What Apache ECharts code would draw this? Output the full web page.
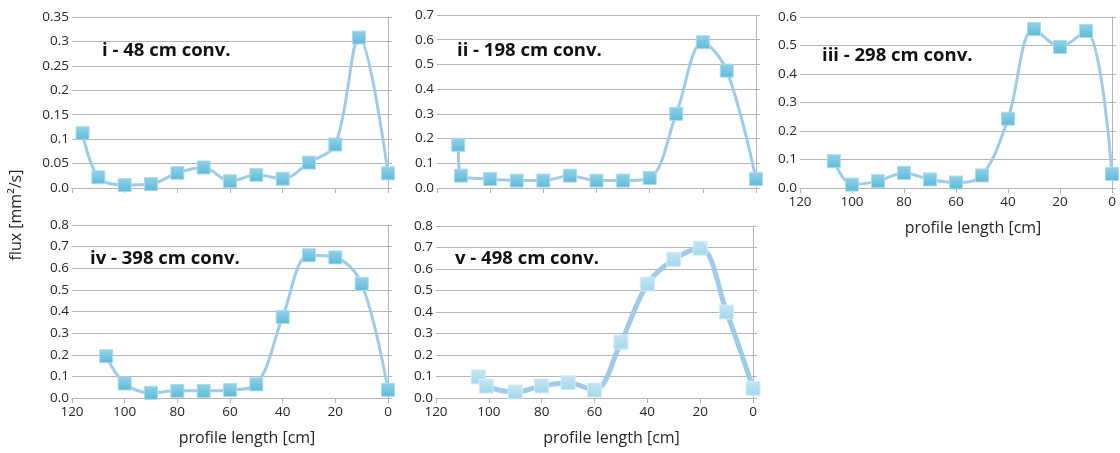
<!DOCTYPE html>
<html>
<head>
<meta charset="utf-8">
<script src="https://cdn.jsdelivr.net/npm/echarts@6/dist/echarts.min.js"></script>
<style>html,body{margin:0;padding:0;background:#fff;}#c{width:1120px;height:453px;}</style>
</head>
<body>
<div id="c"></div>
<script>
// Panel titles
const titles = ['i - 48 cm conv.', 'ii - 198 cm conv.', 'iii - 298 cm conv.', 'iv - 398 cm conv.', 'v - 498 cm conv.'];
// profile length [cm] and flux [mm2/s] per panel
const x1 = [116, 110, 100, 90, 80, 70, 60, 50, 40, 30, 20, 11, 0];
const y1 = [0.112, 0.022, 0.006, 0.008, 0.031, 0.042, 0.014, 0.027, 0.019, 0.052, 0.089, 0.308, 0.03];
const x2 = [112, 111, 100, 90, 80, 70, 60, 50, 40, 30, 20, 11, 0];
const y2 = [0.175, 0.05, 0.036, 0.03, 0.03, 0.05, 0.03, 0.03, 0.04, 0.30, 0.59, 0.475, 0.036];
const x3 = [107, 100, 90, 80, 70, 60, 50, 40, 30, 20, 10, 0];
const y3 = [0.094, 0.012, 0.024, 0.053, 0.03, 0.019, 0.044, 0.243, 0.558, 0.495, 0.551, 0.049];
const x4 = [107, 100, 90, 80, 70, 60, 50, 40, 30, 20, 10, 0];
const y4 = [0.193, 0.067, 0.024, 0.033, 0.033, 0.037, 0.063, 0.375, 0.66, 0.65, 0.528, 0.038];
const x5 = [104, 101, 90, 80, 70, 60, 50, 40, 30, 20, 10, 0];
const y5 = [0.098, 0.055, 0.028, 0.056, 0.071, 0.037, 0.26, 0.53, 0.645, 0.697, 0.4, 0.045];
// axis settings
const yMax = [0.35, 0.7, 0.6, 0.8, 0.8];
const yStep = [0.05, 0.1, 0.1, 0.1, 0.1];
const xTicks = [0, 20, 40, 60, 80, 100, 120];
const yName = 'flux [mm²/s]';
const xName = 'profile length [cm]';

const xsAll = [x1, x2, x3, x4, x5];
const ysAll = [y1, y2, y3, y4, y5];

const gridPos = [
  {left: 72, top: 17, width: 316, height: 171},
  {left: 437, top: 15, width: 319, height: 173},
  {left: 800, top: 17, width: 312, height: 171},
  {left: 72, top: 225, width: 316, height: 173},
  {left: 436, top: 226, width: 317, height: 172}
];
const titlePos = [[102, 53], [457, 53], [822, 58], [90, 261], [455, 261]];
const showXLabels = [false, false, true, true, true];

const FONT = 'Open Sans';
const gray = '#b4b4b4';
const txt = '#262626';

const grids = [], xAxes = [], yAxes = [], series = [], graphics = [];
for (let i = 0; i < 5; i++) {
  grids.push(Object.assign({containLabel: false}, gridPos[i]));
  xAxes.push({
    type: 'value', gridIndex: i, inverse: true, min: 0, max: 120, interval: 20,
    axisLine: {show: true, lineStyle: {color: gray, width: 1}},
    axisTick: {show: true, length: 5, lineStyle: {color: gray}},
    splitLine: {show: false},
    axisLabel: {show: showXLabels[i], color: txt, fontFamily: FONT, fontSize: 13.5, margin: 7},
    name: showXLabels[i] ? xName : '',
    nameLocation: 'middle', nameGap: 32,
    nameTextStyle: {color: txt, fontFamily: FONT, fontSize: 16, padding: [0, 0, 0, 34]}
  });
  const dec = yStep[i] < 0.1 ? 2 : 1;
  yAxes.push({
    type: 'value', gridIndex: i, min: 0, max: yMax[i], interval: yStep[i],
    axisLine: {show: false},
    axisTick: {show: true, length: 4, lineStyle: {color: gray}},
    splitLine: {show: true, lineStyle: {color: gray, width: 1}},
    axisLabel: {color: txt, fontFamily: FONT, fontSize: 13.5, margin: 3,
      formatter: v => v === 0 ? '0.0' : String(+v.toFixed(dec))}
  });
  yAxes.push({
    type: 'value', gridIndex: i, position: 'right', min: 0, max: yMax[i], interval: yStep[i],
    axisLine: {show: true, lineStyle: {color: gray, width: 1}},
    axisTick: {show: true, length: 4, lineStyle: {color: gray}},
    splitLine: {show: false},
    axisLabel: {show: false}
  });
  const light = i === 4;
  series.push({
    type: 'line', xAxisIndex: i, yAxisIndex: 2 * i, smooth: 0.35,
    data: xsAll[i].map((x, k) => [x, ysAll[i][k]]),
    symbol: 'rect', symbolSize: light ? 14 : 13,
    lineStyle: {color: '#9fcbea', width: light ? 5 : 3},
    itemStyle: {
      color: new echarts.graphic.LinearGradient(0, 0, 0, 1, light ?
        [{offset: 0, color: '#c4e6f4'}, {offset: 1, color: '#a2d6ec'}] :
        [{offset: 0, color: '#92d2ea'}, {offset: 1, color: '#5db9d6'}]),
      borderColor: light ? '#d4edf7' : '#a9dcee', borderWidth: 1
    },
    z: 3
  });
  graphics.push({
    type: 'text', left: titlePos[i][0], top: titlePos[i][1] - 12,
    style: {text: titles[i], fill: '#111', font: 'bold 18.5px "Open Sans"'}
  });
}
graphics.push({
  type: 'text', x: 16, y: 215, rotation: Math.PI / 2,
  style: {text: yName, fill: txt, font: '16px "Open Sans"', align: 'center', verticalAlign: 'middle'}
});

const chart = echarts.init(document.getElementById('c'), null, {renderer: 'canvas'});
chart.setOption({
  animation: false,
  backgroundColor: '#fff',
  grid: grids, xAxis: xAxes, yAxis: yAxes, series: series, graphic: graphics
});
</script>
</body>
</html>
